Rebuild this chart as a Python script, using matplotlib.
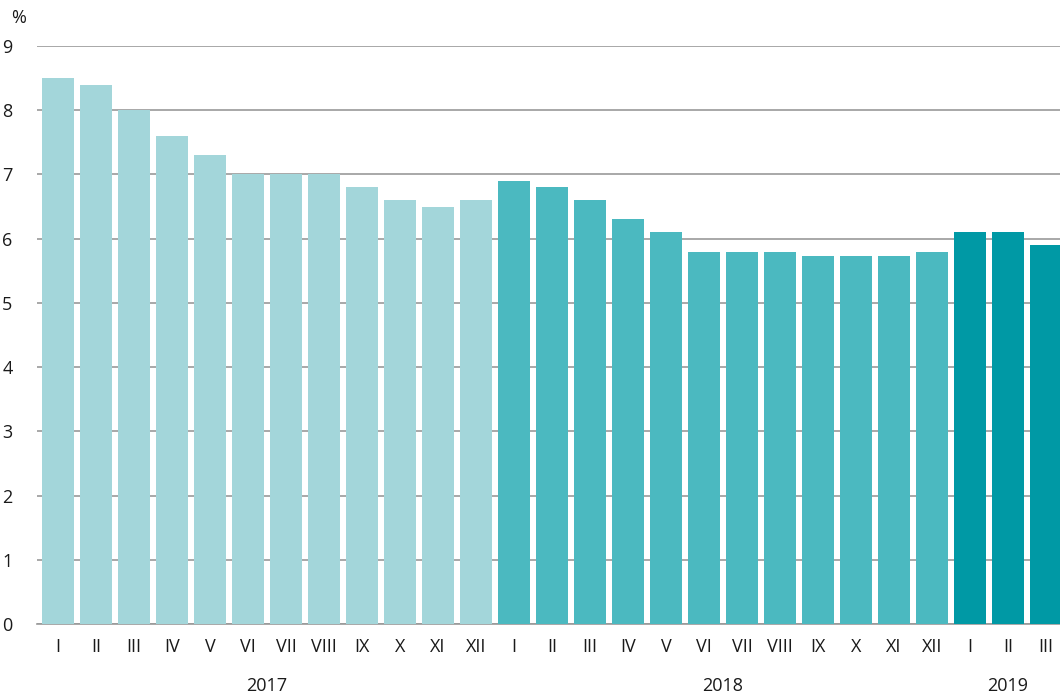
import matplotlib.pyplot as plt
import numpy as np

plt.rcParams['font.family'] = ['Open Sans', 'DejaVu Sans']

months = ['I', 'II', 'III', 'IV', 'V', 'VI', 'VII', 'VIII', 'IX', 'X', 'XI', 'XII',
          'I', 'II', 'III', 'IV', 'V', 'VI', 'VII', 'VIII', 'IX', 'X', 'XI', 'XII',
          'I', 'II', 'III']
vals_2017 = [8.5, 8.4, 8.0, 7.6, 7.3, 7.0, 7.0, 7.0, 6.8, 6.6, 6.5, 6.6]
vals_2018 = [6.9, 6.8, 6.6, 6.3, 6.1, 5.8, 5.8, 5.8, 5.73, 5.73, 5.73, 5.8]
vals_2019 = [6.1, 6.1, 5.9]
years = ['2017', '2018', '2019']
colors = ['#a3d6da', '#4bb9c0', '#0099a5']

fig = plt.figure(figsize=(10.6, 6.98), dpi=100)
ax = fig.add_axes([37 / 1060, 74 / 698, 1 - 37 / 1060, (624 - 46) / 698])
ax.set_axisbelow(True)

start = 0
for vals, col, yr in zip([vals_2017, vals_2018, vals_2019], colors, years):
    x = np.arange(start, start + len(vals))
    ax.bar(x, vals, width=0.84, color=col, zorder=3)
    mid = (x[0] + x[-1]) / 2
    ax.text(mid, -0.97, yr, ha='center', va='center', fontsize=13,
            color='#1a1a1a')
    start += len(vals)

ax.set_xlim(-0.55, 26.37)
ax.set_ylim(0, 9)
ax.set_yticks(range(0, 10))
ax.set_xticks(range(len(months)))
ax.set_xticklabels(months)
ax.grid(axis='y', color='#999999', linewidth=1.2, zorder=0)
ax.tick_params(axis='both', length=0, labelsize=13, colors='#1a1a1a')
ax.tick_params(axis='x', pad=10)
for s in ['top', 'right', 'left']:
    ax.spines[s].set_visible(False)
ax.spines['bottom'].set_color('#999999')
ax.spines['bottom'].set_linewidth(1.2)
for lbl in ax.get_yticklabels():
    lbl.set_horizontalalignment('left')
ax.tick_params(axis='y', pad=25)

fig.text(11 / 1060, 1 - 18 / 698, '%', ha='left', va='center', fontsize=13, color='#1a1a1a')

fig.savefig('out.png', dpi=100)
